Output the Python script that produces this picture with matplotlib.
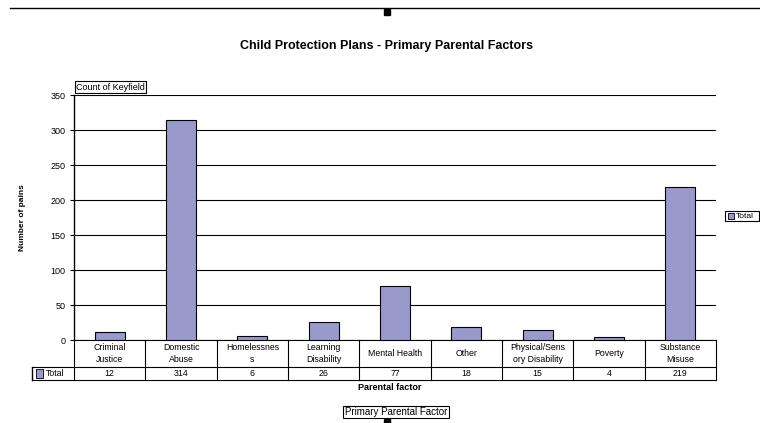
import matplotlib
matplotlib.use("Agg")
import matplotlib.pyplot as plt
from matplotlib.patches import Rectangle

plt.rcParams['font.family'] = ['Liberation Sans', 'DejaVu Sans']

# data
categories = ['Criminal\nJustice', 'Domestic\nAbuse', 'Homelessnes\ns', 'Learning\nDisability',
              'Mental Health', 'Other', 'Physical/Sens\nory Disability', 'Poverty', 'Substance\nMisuse']
totals = [12, 314, 6, 26, 77, 18, 15, 4, 219]
yticks = [0, 50, 100, 150, 200, 250, 300, 350]

bar_color = '#9999cc'

fig = plt.figure(figsize=(7.6, 4.23), dpi=100)
ax = fig.add_axes([74/760, 1-340/423, (716-74)/760, (340-95)/423])

x = list(range(len(categories)))
ax.bar(x, totals, width=0.42, color=bar_color, edgecolor='black', linewidth=0.8, zorder=3)

ax.set_xlim(-0.5, len(categories)-0.5)
ax.set_ylim(0, 350)
ax.set_yticks(yticks)
ax.tick_params(axis='y', labelsize=6.5, length=3, width=0.8, pad=3)
ax.set_xticks([])
ax.yaxis.grid(True, color='black', linewidth=0.8, zorder=0)
for s in ['top', 'right', 'bottom']:
    ax.spines[s].set_visible(False)
ax.spines['left'].set_linewidth(1.0)
ax.set_ylabel('Number of pains', fontsize=6, fontweight='bold', labelpad=18)

# data table under the axis
tr = ax.get_xaxis_transform()
r1, r2 = -27/245, -40/245
left = -1.09
n = len(categories)
ax.plot([-0.5, n-0.5], [0, 0], transform=tr, color='black', linewidth=0.8, clip_on=False)
ax.plot([left, n-0.5], [r1, r1], transform=tr, color='black', linewidth=0.8, clip_on=False)
ax.plot([left, n-0.5], [r2, r2], transform=tr, color='black', linewidth=0.8, clip_on=False)
for i in range(n+1):
    ax.plot([i-0.5, i-0.5], [0, r2], transform=tr, color='black', linewidth=0.8, clip_on=False)
ax.plot([left, left], [r1, r2], transform=tr, color='black', linewidth=1.0, clip_on=False)
for i, (c, t) in enumerate(zip(categories, totals)):
    ax.text(i, r1/2, c, transform=tr, ha='center', va='center', fontsize=6.3, linespacing=1.4)
    ax.text(i, (r1+r2)/2, str(t), transform=tr, ha='center', va='center', fontsize=6.3)
ax.add_patch(Rectangle((left+0.06, (r1+r2)/2-0.018), 0.1, 0.036, transform=tr, facecolor=bar_color,
                       edgecolor='black', linewidth=0.6, clip_on=False))
ax.text(left+0.19, (r1+r2)/2, 'Total', transform=tr, ha='left', va='center', fontsize=6.3)

fig.text(390/760, 1-387/423, 'Parental factor', ha='center', va='center', fontsize=6.5, fontweight='bold')

# title and decorations
fig.text(387/760, 1-46/423, 'Child Protection Plans - Primary Parental Factors', ha='center', va='center',
         fontsize=9, fontweight='bold')
fig.add_artist(plt.Line2D([10/760, 1], [1-8/423, 1-8/423], color='black', linewidth=1.0))
fig.add_artist(Rectangle((384/760, 1-15/423), 6/760, 6/423, color='black'))
fig.add_artist(Rectangle((384/760, 0), 6/760, 4/423, color='black'))

bbox = dict(boxstyle='square,pad=0.15', facecolor='white', edgecolor='black', linewidth=0.8)
fig.text(76/760, 1-87/423, 'Count of Keyfield', ha='left', va='center', fontsize=6.5, bbox=bbox)
fig.text(396/760, 1-412/423, 'Primary Parental Factor', ha='center', va='center', fontsize=7, bbox=bbox)

# legend box on the right edge
fig.add_artist(Rectangle((725/760, 1-221/423), 34/760, 10/423, facecolor='white', edgecolor='black',
                         linewidth=0.8))
fig.add_artist(Rectangle((728/760, 1-219/423), 6/760, 6/423, facecolor=bar_color, edgecolor='black',
                         linewidth=0.6))
fig.text(736/760, 1-216/423, 'Total', ha='left', va='center', fontsize=6)

fig.savefig('out.png', dpi=100)
